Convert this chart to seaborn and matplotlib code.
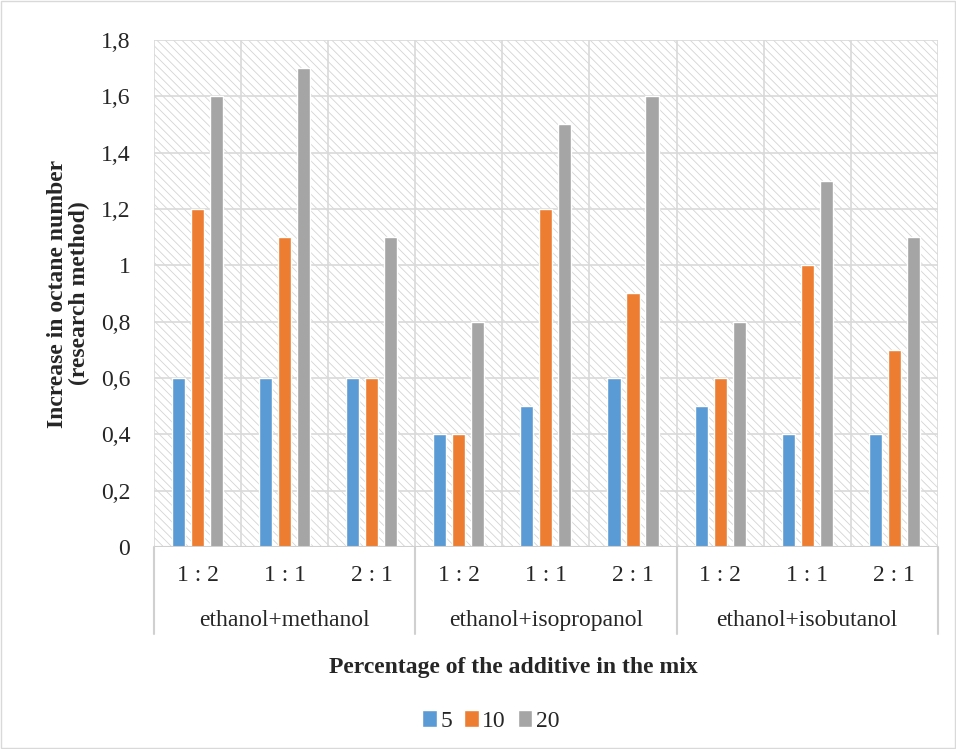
import matplotlib
matplotlib.use("Agg")
import matplotlib.pyplot as plt
import matplotlib.transforms as mtransforms
from matplotlib.patches import Rectangle
from matplotlib.lines import Line2D
import seaborn as sns
import pandas as pd

groups = ["ethanol+methanol", "ethanol+isopropanol", "ethanol+isobutanol"]
ratios = ["1 : 2", "1 : 1", "2 : 1"]
percentages = ["5", "10", "20"]
values_5 = [0.6, 0.6, 0.6, 0.4, 0.5, 0.6, 0.5, 0.4, 0.4]
values_10 = [1.2, 1.1, 0.6, 0.4, 1.2, 0.9, 0.6, 1.0, 0.7]
values_20 = [1.6, 1.7, 1.1, 0.8, 1.5, 1.6, 0.8, 1.3, 1.1]
colors = ["#5B9BD5", "#ED7D31", "#A5A5A5"]

sns.set_theme(style="white")
plt.rcParams["font.family"] = ["Liberation Serif", "DejaVu Serif"]
plt.rcParams["hatch.linewidth"] = 0.6
plt.rcParams["hatch.color"] = "#d4d4d4"

FS = 17

cats = [f"{g}|{r}" for g in groups for r in ratios]
rows = []
for vals, p in zip([values_5, values_10, values_20], percentages):
    for c, v in zip(cats, vals):
        rows.append({"cat": c, "pct": p, "value": v})
df = pd.DataFrame(rows)

fig = plt.figure(figsize=(9.56, 7.49), dpi=100)
ax = fig.add_axes([0.161, 0.2697, 0.82, 0.6769])

# hatched background
bg = Rectangle((0, 0), 1, 1, transform=ax.transAxes, facecolor="white",
               edgecolor="#d4d4d4", hatch="\\\\\\\\", linewidth=0, zorder=0)
ax.add_patch(bg)

sns.barplot(data=df, x="cat", y="value", hue="pct", order=cats,
            hue_order=percentages, palette=colors, width=0.654, gap=0.31,
            saturation=1, ax=ax, legend=False, zorder=3)

ax.set_xlim(-0.5, len(cats) - 0.5)
ax.set_ylim(0, 1.8)
yt = [i * 0.2 for i in range(10)]
ax.set_yticks(yt)
ax.set_yticklabels([("%g" % round(t, 1)).replace(".", ",") for t in yt], fontsize=FS)
ax.tick_params(axis="y", length=0, pad=17)

# grid lines
grid_c = "#d9d9d9"
for t in yt[1:]:
    ax.axhline(t, color=grid_c, lw=1.2, zorder=1)
for i in range(len(cats) + 1):
    ax.axvline(i - 0.5, color=grid_c, lw=1.2, zorder=1)
for s in ax.spines.values():
    s.set_visible(False)
ax.axhline(0, color="#d0d0d0", lw=1.5, zorder=4)

# category labels
ax.set_xticks([])
ax.set_xlabel("")
trans = mtransforms.blended_transform_factory(ax.transData, ax.transAxes)
for i, r in enumerate(ratios * len(groups)):
    ax.text(i, -0.0572, r, transform=trans, ha="center", va="center", fontsize=FS)
for k in range(len(groups) + 1):
    x = k * len(ratios) - 0.5
    ax.add_line(Line2D([x, x], [0, -0.172], transform=trans, color="#d0d0d0",
                       lw=1.5, clip_on=False))
for k, g in enumerate(groups):
    ax.text(k * len(ratios) + 1, -0.144, g, transform=trans, ha="center",
            va="center", fontsize=FS)

ax.set_ylabel("Increase in octane number\n(research method)", fontsize=FS,
              fontweight="bold", labelpad=8, linespacing=1.0)
fig.text(0.537, 1 - 668 / 749, "Percentage of the additive in the mix",
         ha="center", va="center", fontsize=FS, fontweight="bold")

handles = [Rectangle((0, 0), 1, 1, facecolor=c) for c in colors]
fig.legend(handles, percentages, loc="center", bbox_to_anchor=(491 / 956, 1 - 721 / 749),
           ncol=3, frameon=False, fontsize=FS, handlelength=0.62, handleheight=0.72,
           handletextpad=0.15, columnspacing=0.5, borderpad=0)

# figure border
fig.patches.append(Rectangle((0.001, 0.001), 0.998, 0.998, transform=fig.transFigure,
                             fill=False, edgecolor="#d9d9d9", lw=1))

fig.savefig("out.png", dpi=100)
